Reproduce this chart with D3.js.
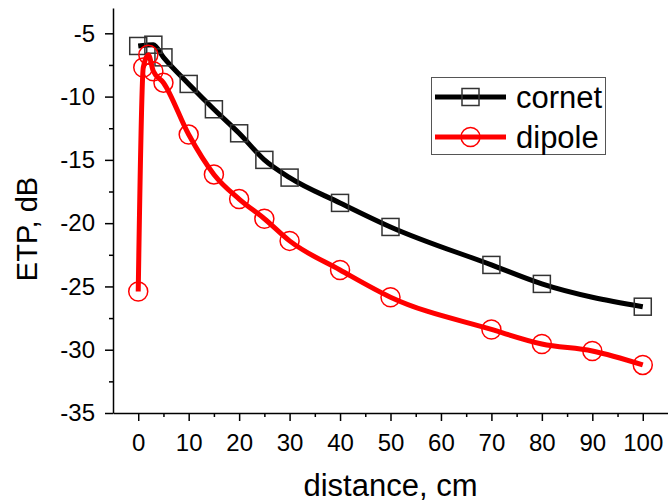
<!DOCTYPE html>
<html>
<head>
<meta charset="utf-8">
<script src="https://cdn.jsdelivr.net/npm/d3@7"></script>
<style>
  body { margin: 0; background: #fff; }
  svg { display: block; font-family: "Liberation Sans", Arial, sans-serif; }
  .axis path, .axis line { stroke: #000; stroke-width: 1.5; }
</style>
</head>
<body>
<svg id="chart" width="668" height="503"></svg>
<script>
// data
var cornetX = [0, 3, 5, 10, 15, 20, 25, 30, 40, 50, 70, 80, 100];
var cornetY = [-6.0, -5.9, -6.9, -9.0, -11.0, -12.9, -15.0, -16.4, -18.4, -20.3, -23.3, -24.8, -26.6];
var dipoleX = [0, 1, 2, 3, 5, 10, 15, 20, 25, 30, 40, 50, 70, 80, 90, 100];
var dipoleY = [-25.4, -7.7, -6.7, -8.0, -8.9, -13.0, -16.15, -18.1, -19.65, -21.4, -23.7, -25.85, -28.4, -29.55, -30.1, -31.2];
var xTicks = [0, 10, 20, 30, 40, 50, 60, 70, 80, 90, 100];
var yTicks = [-35, -30, -25, -20, -15, -10, -5];

var svg = d3.select('#chart');
var margin = {top: 8, left: 113, right: 0, bottom: 90};
var width = 668 - margin.left,
    height = 413 - margin.top;

var g = svg.append('g').attr('transform', 'translate(' + margin.left + ',' + margin.top + ')');

var x = d3.scaleLinear().domain([-5, 105]).range([0, width]);
var y = d3.scaleLinear().domain([-35, -3]).range([height, 0]);

// minor ticks first
var xMinor = xTicks.map(function (d) { return d + 5; }).filter(function (d) { return d < 105; });
var yMinor = yTicks.map(function (d) { return d - 2.5; }).filter(function (d) { return d > -35; });

g.append('g').attr('class', 'axis')
    .attr('transform', 'translate(0,' + height + ')')
    .call(d3.axisBottom(x).tickValues(xMinor).tickSize(4).tickFormat(''))
    .select('.domain').remove();
g.append('g').attr('class', 'axis')
    .call(d3.axisLeft(y).tickValues(yMinor).tickSize(4).tickFormat(''))
    .select('.domain').remove();

var xAxis = g.append('g').attr('class', 'axis')
    .attr('transform', 'translate(0,' + height + ')')
    .call(d3.axisBottom(x).tickValues(xTicks).tickSize(8).tickSizeOuter(0).tickPadding(13));
xAxis.selectAll('text').attr('font-size', 24).attr('fill', '#000');

var yAxis = g.append('g').attr('class', 'axis')
    .call(d3.axisLeft(y).tickValues(yTicks).tickSize(8).tickSizeOuter(0).tickPadding(10)
      .tickFormat(function (d) { return String(d).replace('\u2212', '-'); }));
yAxis.selectAll('text').attr('font-size', 24).attr('fill', '#000');

// axis titles
svg.append('text')
    .attr('x', margin.left + width / 2)
    .attr('y', 496)
    .attr('text-anchor', 'middle')
    .attr('font-size', 31)
    .text('distance, cm');

svg.append('text')
    .attr('transform', 'translate(37,229) rotate(-90)')
    .attr('text-anchor', 'middle')
    .attr('font-size', 29)
    .text('ETP, dB');

var line = d3.line()
    .x(function (d) { return x(d[0]); })
    .y(function (d) { return y(d[1]); })
    .curve(d3.curveMonotoneX);

var cornet = cornetX.map(function (d, i) { return [d, cornetY[i]]; });
var dipole = dipoleX.map(function (d, i) { return [d, dipoleY[i]]; });

// cornet
g.append('path').datum(cornet)
    .attr('d', line)
    .attr('fill', 'none')
    .attr('stroke', '#000')
    .attr('stroke-width', 5);
g.append('g').selectAll('rect')
    .data(cornet)
    .enter().append('rect')
    .attr('x', function (d) { return x(d[0]) - 8.5; })
    .attr('y', function (d) { return y(d[1]) - 8.5; })
    .attr('width', 17)
    .attr('height', 17)
    .attr('fill', 'none')
    .attr('stroke', '#333')
    .attr('stroke-width', 1.5);

// dipole
g.append('path').datum(dipole)
    .attr('d', line)
    .attr('fill', 'none')
    .attr('stroke', '#ff0000')
    .attr('stroke-width', 5);
g.append('g').selectAll('circle')
    .data(dipole)
    .enter().append('circle')
    .attr('cx', function (d) { return x(d[0]); })
    .attr('cy', function (d) { return y(d[1]); })
    .attr('r', 9.5)
    .attr('fill', 'none')
    .attr('stroke', '#ff0000')
    .attr('stroke-width', 1.5);

// legend
var legend = svg.append('g');
legend.append('rect')
    .attr('x', 431.5).attr('y', 77.5)
    .attr('width', 174).attr('height', 77)
    .attr('fill', '#fff')
    .attr('stroke', '#555')
    .attr('stroke-width', 1);

var items = [
  {name: 'cornet', color: '#000', y: 97, shape: 'square'},
  {name: 'dipole', color: '#ff0000', y: 137, shape: 'circle'}
];
items.forEach(function (it) {
  legend.append('line')
      .attr('x1', 435).attr('x2', 506)
      .attr('y1', it.y).attr('y2', it.y)
      .attr('stroke', it.color)
      .attr('stroke-width', 5);
  if (it.shape === 'square') {
    legend.append('rect')
        .attr('x', 470.5 - 8.5).attr('y', it.y - 8.5)
        .attr('width', 17).attr('height', 17)
        .attr('fill', 'none').attr('stroke', '#333').attr('stroke-width', 1.5);
  } else {
    legend.append('circle')
        .attr('cx', 470.5).attr('cy', it.y).attr('r', 9.5)
        .attr('fill', 'none').attr('stroke', '#ff0000').attr('stroke-width', 1.5);
  }
  legend.append('text')
      .attr('x', 516)
      .attr('y', it.y + 11)
      .attr('font-size', 31)
      .text(it.name);
});
</script>
</body>
</html>
